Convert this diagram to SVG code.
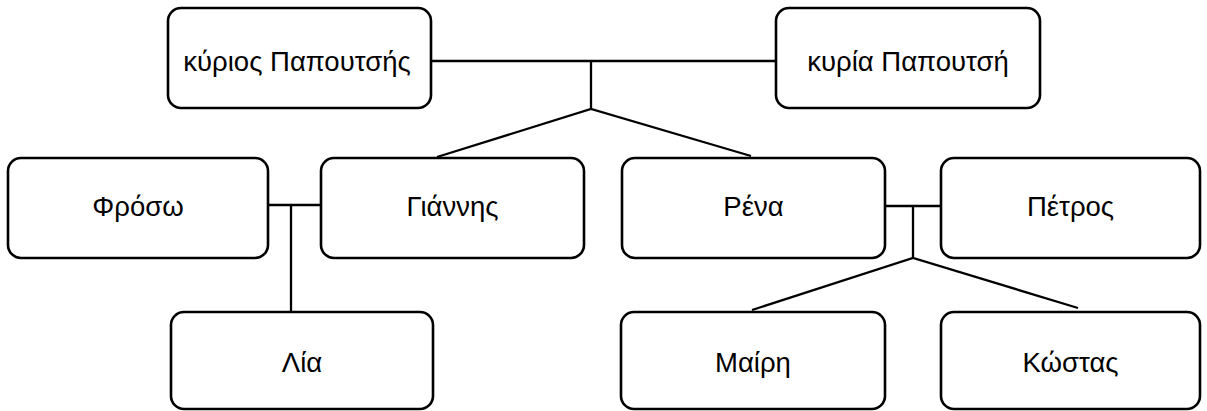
<svg xmlns="http://www.w3.org/2000/svg" width="1207" height="411" viewBox="0 0 1207 411">
<style>
.box{fill:#fff;stroke:#000;stroke-width:2.6}
.lbl{font-family:"Liberation Sans",Arial,sans-serif;font-size:27.5px;fill:#000;text-anchor:middle}
.ln{stroke:#000;stroke-width:2.3;fill:none;stroke-linecap:butt}
</style>
<rect width="1207" height="411" fill="#fff"/>
<g id="connectors">
<path class="ln" d="M431 61H776"/>
<path class="ln" d="M591 61V109"/>
<path class="ln" d="M437 157L591 109L751 156"/>
<path class="ln" d="M268 205H321"/>
<path class="ln" d="M291 205V312"/>
<path class="ln" d="M885 206H941"/>
<path class="ln" d="M913 206V258"/>
<path class="ln" d="M752 310L913 258L1078 308"/>
</g>
<g id="n_kyrios"><rect class="box" x="168" y="8" width="263" height="100" rx="13"/><text class="lbl" x="297" y="71">κύριος Παπουτσής</text></g>
<g id="n_kyria"><rect class="box" x="776" y="8" width="264" height="100" rx="13"/><text class="lbl" x="908" y="71">κυρία Παπουτσή</text></g>
<g id="n_froso"><rect class="box" x="8" y="158" width="260" height="100" rx="13"/><text class="lbl" x="138" y="216">Φρόσω</text></g>
<g id="n_giannis"><rect class="box" x="321" y="158" width="263" height="100" rx="13"/><text class="lbl" x="452.5" y="216">Γιάννης</text></g>
<g id="n_rena"><rect class="box" x="622" y="158" width="263" height="100" rx="13"/><text class="lbl" x="753.5" y="216">Ρένα</text></g>
<g id="n_petros"><rect class="box" x="941" y="158" width="259" height="100" rx="13"/><text class="lbl" x="1070.5" y="216">Πέτρος</text></g>
<g id="n_lia"><rect class="box" x="171" y="312" width="262" height="97" rx="13"/><text class="lbl" x="302" y="372">Λία</text></g>
<g id="n_mairi"><rect class="box" x="621" y="312" width="264" height="97" rx="13"/><text class="lbl" x="753" y="372">Μαίρη</text></g>
<g id="n_kostas"><rect class="box" x="941" y="312" width="259" height="97" rx="13"/><text class="lbl" x="1070.5" y="372">Κώστας</text></g>
</svg>
